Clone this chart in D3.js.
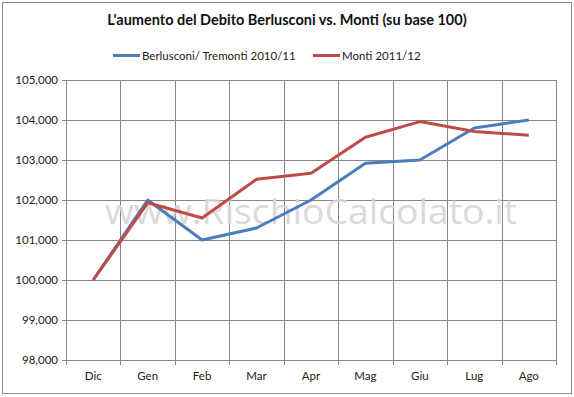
<!DOCTYPE html>
<html><head><meta charset="utf-8">
<script src="https://cdn.jsdelivr.net/npm/d3@7"></script>
<style>body{margin:0;background:#fff}svg{display:block}</style>
</head><body>
<script>
const categories = ["Dic","Gen","Feb","Mar","Apr","Mag","Giu","Lug","Ago"];
const berlusconi = [100000,102000,101000,101300,102000,102920,103000,103800,104000];
const monti = [100000,101930,101550,102520,102670,103570,103960,103710,103620];
const seriesNames = ["Berlusconi/ Tremonti 2010/11","Monti 2011/12"];
const yTicks = [98000,99000,100000,101000,102000,103000,104000,105000];
const title = "L'aumento del Debito Berlusconi vs. Monti (su base 100)";
const watermark = "www.RischioCalcolato.it";

const W=574,H=397;
const m={l:66,r:18,t:80,b:37};
const font="Lato, 'Open Sans', sans-serif";
const svg=d3.select("body").append("svg").attr("width",W).attr("height",H);
svg.append("rect").attr("x",2.5).attr("y",2.5).attr("width",569).attr("height",391)
  .attr("fill","#fff").attr("stroke","#8c8c8c").attr("stroke-width",1);

const x=d3.scaleBand().domain(categories).range([m.l,W-m.r]);
const y=d3.scaleLinear().domain([98000,105000]).range([H-m.b,m.t]);

const g=svg.append("g");
g.selectAll("line.h").data(yTicks).join("line")
 .attr("x1",m.l-4).attr("x2",W-m.r).attr("y1",d=>Math.round(y(d))+0.5).attr("y2",d=>Math.round(y(d))+0.5)
 .attr("stroke","#868686");
const bounds=categories.map(c=>x(c)).concat([W-m.r]);
g.selectAll("line.v").data(bounds).join("line")
 .attr("x1",d=>Math.round(d)+0.5).attr("x2",d=>Math.round(d)+0.5)
 .attr("y1",m.t).attr("y2",H-m.b+5).attr("stroke","#868686");

const yAxis=d3.axisLeft(y).tickValues(yTicks).tickSize(0).tickPadding(8).tickFormat(d3.format(",.0f"));
const ya=svg.append("g").attr("transform",`translate(${m.l},0)`).call(yAxis);
ya.select(".domain").remove();
ya.selectAll("text").attr("font-family",font).attr("font-size",11.5).attr("fill","#222");

const xAxis=d3.axisBottom(x).tickSize(0).tickPadding(12);
const xa=svg.append("g").attr("transform",`translate(0,${H-m.b})`).call(xAxis);
xa.select(".domain").remove();
xa.selectAll("text").attr("font-family",font).attr("font-size",11.5).attr("fill","#222");

svg.append("text").attr("x",311).attr("y",224).attr("text-anchor","middle")
 .attr("font-family","'Open Sans', 'Liberation Sans', sans-serif").attr("font-size",34)
 .attr("textLength",412).attr("lengthAdjust","spacingAndGlyphs")
 .attr("fill","#d6d6d6").attr("opacity",0.9).text(watermark);

const line=d3.line().x((d,i)=>x(categories[i])+x.bandwidth()/2).y(d=>y(d));
const colors=["#4a7ebb","#be4b48"];
[berlusconi,monti].forEach((s,i)=>{
  svg.append("path").attr("d",line(s)).attr("fill","none").attr("stroke",colors[i])
   .attr("stroke-width",3).attr("stroke-linejoin","round");
});

svg.append("text").attr("x",287).attr("y",25).attr("text-anchor","middle")
 .attr("font-family",font).attr("font-weight","bold").attr("font-size",14.5).attr("fill","#111").text(title);

const leg=[{x:113,t:seriesNames[0]},{x:313,t:seriesNames[1]}];
leg.forEach((l,i)=>{
  svg.append("line").attr("x1",l.x).attr("x2",l.x+27).attr("y1",55.5).attr("y2",55.5)
   .attr("stroke",colors[i]).attr("stroke-width",3);
  svg.append("text").attr("x",l.x+29).attr("y",59.5).attr("font-family",font).attr("font-size",11.5)
   .attr("fill","#222").text(l.t);
});
</script>
</body></html>
